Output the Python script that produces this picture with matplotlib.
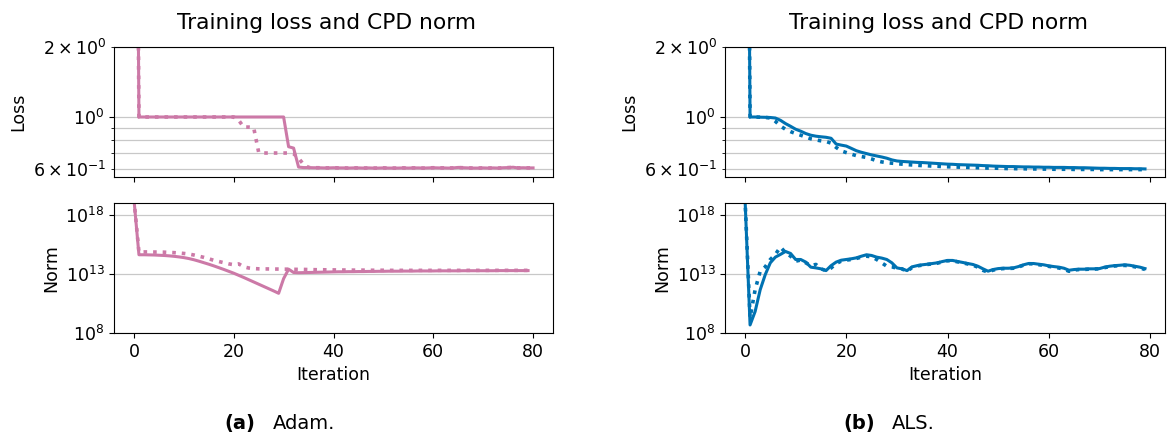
import numpy as np
import matplotlib
matplotlib.use('Agg')
import matplotlib.pyplot as plt
from matplotlib.ticker import NullLocator

# ---- data ----
# Adam: loss over iterations 0..80, CPD norm (log10) over 0..79
adam_loss_solid = [
    1000.0, 1.0, 1.0, 1.0, 1.0, 1.0, 1.0, 1.0, 1.0, 1.0,
    1.0, 1.0, 1.0, 1.0, 1.0, 1.0, 1.0, 1.0, 1.0, 1.0,
    1.0, 1.0, 1.0, 1.0, 1.0, 1.0, 1.0, 1.0, 1.0, 1.0,
    1.0, 0.745, 0.735, 0.609, 0.606, 0.606, 0.605, 0.605, 0.604, 0.604,
    0.605, 0.604, 0.604, 0.603, 0.604, 0.604, 0.603, 0.604, 0.603, 0.603,
    0.604, 0.603, 0.603, 0.603, 0.604, 0.603, 0.604, 0.604, 0.603, 0.604,
    0.605, 0.604, 0.604, 0.603, 0.604, 0.607, 0.605, 0.604, 0.603, 0.603,
    0.604, 0.603, 0.604, 0.603, 0.605, 0.606, 0.608, 0.604, 0.605, 0.604,
    0.604,
]
adam_loss_dotted = [
    1000.0, 1.0, 1.0, 1.0, 1.0, 1.0, 1.0, 1.0, 1.0, 1.0,
    1.0, 1.0, 1.0, 1.0, 1.0, 1.0, 1.0, 1.0, 1.0, 1.0,
    1.0, 0.968, 0.905, 0.905, 0.9, 0.705, 0.7, 0.7, 0.7, 0.7,
    0.7, 0.7, 0.695, 0.665, 0.625, 0.607, 0.605, 0.605, 0.604, 0.604,
    0.605, 0.604, 0.604, 0.603, 0.604, 0.604, 0.603, 0.604, 0.603, 0.603,
    0.604, 0.603, 0.603, 0.603, 0.604, 0.603, 0.604, 0.604, 0.603, 0.604,
    0.605, 0.604, 0.604, 0.603, 0.604, 0.606, 0.605, 0.604, 0.603, 0.603,
    0.604, 0.603, 0.604, 0.603, 0.605, 0.606, 0.607, 0.604, 0.605, 0.604,
    0.604,
]
adam_norm_solid_log10 = [
    19.3, 14.62, 14.62, 14.61, 14.6, 14.58, 14.56, 14.53, 14.49, 14.44,
    14.38, 14.3, 14.2, 14.08, 13.95, 13.82, 13.68, 13.53, 13.38, 13.22,
    13.06, 12.88, 12.7, 12.51, 12.32, 12.13, 11.94, 11.75, 11.56, 11.36,
    12.6, 13.4, 13.12, 13.1, 13.11, 13.12, 13.13, 13.14, 13.15, 13.16,
    13.17, 13.18, 13.18, 13.19, 13.19, 13.2, 13.2, 13.21, 13.21, 13.22,
    13.22, 13.23, 13.23, 13.23, 13.24, 13.24, 13.24, 13.25, 13.25, 13.25,
    13.25, 13.26, 13.26, 13.26, 13.26, 13.26, 13.27, 13.27, 13.27, 13.27,
    13.27, 13.27, 13.27, 13.28, 13.28, 13.28, 13.28, 13.28, 13.28, 13.28,
]
adam_norm_dotted_log10 = [
    19.3, 14.85, 14.86, 14.86, 14.85, 14.85, 14.84, 14.82, 14.8, 14.77,
    14.73, 14.68, 14.6, 14.5, 14.4, 14.28, 14.15, 14.05, 13.95, 13.85,
    13.78, 13.85, 13.6, 13.5, 13.45, 13.43, 13.42, 13.42, 13.41, 13.41,
    13.4, 13.4, 13.39, 13.38, 13.38, 13.37, 13.36, 13.35, 13.35, 13.34,
    13.34, 13.33, 13.33, 13.33, 13.32, 13.32, 13.32, 13.31, 13.31, 13.31,
    13.31, 13.3, 13.3, 13.3, 13.3, 13.3, 13.3, 13.3, 13.3, 13.3,
    13.3, 13.3, 13.3, 13.3, 13.3, 13.3, 13.3, 13.3, 13.3, 13.3,
    13.3, 13.3, 13.3, 13.3, 13.3, 13.3, 13.3, 13.3, 13.3, 13.3,
]

# ALS: loss and CPD norm (log10) over iterations 0..79
als_loss_solid = [
    1000.0, 1.0, 1.0, 0.998, 0.997, 0.995, 0.99, 0.968, 0.937, 0.912,
    0.886, 0.869, 0.849, 0.835, 0.827, 0.822, 0.818, 0.81, 0.765, 0.757,
    0.75, 0.733, 0.716, 0.705, 0.696, 0.687, 0.68, 0.673, 0.665, 0.654,
    0.647, 0.644, 0.642, 0.64, 0.638, 0.637, 0.635, 0.633, 0.631, 0.629,
    0.627, 0.626, 0.624, 0.623, 0.622, 0.621, 0.62, 0.618, 0.617, 0.615,
    0.614, 0.613, 0.612, 0.612, 0.611, 0.61, 0.61, 0.609, 0.609, 0.608,
    0.608, 0.607, 0.607, 0.607, 0.606, 0.606, 0.605, 0.605, 0.604, 0.603,
    0.602, 0.602, 0.601, 0.601, 0.6, 0.6, 0.6, 0.599, 0.599, 0.598,
]
als_loss_dotted = [
    1000.0, 1.0, 1.0, 0.998, 0.996, 0.99, 0.958, 0.915, 0.885, 0.865,
    0.849, 0.835, 0.82, 0.806, 0.797, 0.79, 0.785, 0.772, 0.74, 0.715,
    0.703, 0.692, 0.682, 0.676, 0.67, 0.66, 0.648, 0.641, 0.636, 0.633,
    0.63, 0.627, 0.624, 0.622, 0.62, 0.618, 0.617, 0.615, 0.614, 0.612,
    0.611, 0.61, 0.609, 0.608, 0.607, 0.606, 0.605, 0.604, 0.603, 0.603,
    0.602, 0.601, 0.6, 0.6, 0.599, 0.599, 0.598, 0.598, 0.597, 0.597,
    0.597, 0.596, 0.596, 0.596, 0.596, 0.595, 0.595, 0.595, 0.595, 0.595,
    0.594, 0.594, 0.594, 0.594, 0.594, 0.594, 0.594, 0.594, 0.594, 0.594,
]
als_norm_solid_log10 = [
    19.4, 8.68, 9.82, 11.66, 12.94, 13.94, 14.42, 14.65, 14.9, 14.73,
    14.22, 14.22, 14.0, 13.57, 13.51, 13.43, 13.28, 13.7, 14.0, 14.16,
    14.22, 14.28, 14.36, 14.5, 14.62, 14.56, 14.42, 14.34, 14.22, 13.94,
    13.51, 13.43, 13.28, 13.6, 13.7, 13.77, 13.82, 13.88, 13.94, 14.05,
    14.14, 14.14, 14.05, 13.97, 13.88, 13.8, 13.65, 13.43, 13.23, 13.37,
    13.45, 13.48, 13.48, 13.51, 13.62, 13.77, 13.88, 13.88, 13.82, 13.77,
    13.68, 13.62, 13.57, 13.48, 13.31, 13.37, 13.4, 13.4, 13.43, 13.43,
    13.45, 13.57, 13.65, 13.7, 13.73, 13.77, 13.73, 13.65, 13.57, 13.45,
]
als_norm_dotted_log10 = [
    19.4, 9.3, 11.66, 13.23, 13.6, 14.22, 14.65, 15.27, 14.8, 14.5,
    14.08, 14.17, 13.94, 13.7, 13.8, 13.43, 13.28, 13.5, 13.88, 14.08,
    14.17, 14.22, 14.31, 14.42, 14.5, 14.45, 14.22, 13.94, 13.65, 13.6,
    13.48, 13.43, 13.2, 13.55, 13.68, 13.74, 13.8, 13.85, 13.91, 14.02,
    14.11, 14.11, 14.02, 13.94, 13.84, 13.74, 13.57, 13.3, 13.15, 13.32,
    13.42, 13.45, 13.46, 13.48, 13.58, 13.74, 13.86, 13.85, 13.78, 13.72,
    13.64, 13.57, 13.5, 13.4, 13.22, 13.33, 13.37, 13.38, 13.4, 13.41,
    13.43, 13.53, 13.62, 13.67, 13.7, 13.72, 13.68, 13.6, 13.5, 13.38,
]

adam_color = '#CC79A7'
als_color = '#0072B2'

W, H = 1169, 436
fig = plt.figure(figsize=(W / 100, H / 100), dpi=100)

def px_axes(left, top, right, bottom):
    return fig.add_axes([left / W, 1 - bottom / H, (right - left) / W, (bottom - top) / H])

def draw_panel(x0, x1, loss_s, loss_d, norm_s, norm_d, color):
    ax_loss = px_axes(x0, 47, x1, 177)
    ax_norm = px_axes(x0, 203, x1, 333)

    ax_loss.plot(np.arange(len(loss_s)), loss_s, color=color, lw=2.2)
    ax_loss.plot(np.arange(len(loss_d)), loss_d, color=color, lw=2.6, ls=':')
    ax_loss.set_yscale('log')
    ax_loss.set_ylim(0.552, 2.0)
    ax_loss.grid(axis='y', which='both', color='#c8c8c8', lw=0.9)
    ax_loss.set_ylabel('Loss', fontsize=12.5)
    ax_loss.set_title('Training loss and CPD norm', fontsize=15.7, pad=13, x=0.485)

    ax_norm.plot(np.arange(len(norm_s)), 10.0 ** np.array(norm_s), color=color, lw=2.2)
    ax_norm.plot(np.arange(len(norm_d)), 10.0 ** np.array(norm_d), color=color, lw=2.6, ls=':')
    ax_norm.set_yscale('log')
    ax_norm.set_ylim(1e8, 1e19)
    ax_norm.set_yticks([1e8, 1e13, 1e18])
    ax_norm.yaxis.set_minor_locator(NullLocator())
    ax_norm.grid(axis='y', which='major', color='#c8c8c8', lw=0.9)
    ax_norm.set_ylabel('Norm', fontsize=12.5)
    ax_norm.set_xlabel('Iteration', fontsize=12.5)

    xmax = max(len(loss_s), len(norm_s)) - 1
    for ax in (ax_loss, ax_norm):
        ax.set_xlim(-0.05 * xmax, 1.05 * xmax)
        ax.set_xticks([0, 20, 40, 60, 80])
        ax.tick_params(which='both', labelsize=12.5)
    ax_loss.tick_params(axis='x', labelbottom=False)

draw_panel(114, 553, adam_loss_solid, adam_loss_dotted,
           adam_norm_solid_log10, adam_norm_dotted_log10, adam_color)
draw_panel(725, 1165, als_loss_solid, als_loss_dotted,
           als_norm_solid_log10, als_norm_dotted_log10, als_color)

# captions
cap_y = 1 - 429 / H
fig.text(224 / W, cap_y, '(a)', fontsize=14, fontweight='bold', va='baseline')
fig.text(273 / W, cap_y, 'Adam.', fontsize=14, va='baseline')
fig.text(843 / W, cap_y, '(b)', fontsize=14, fontweight='bold', va='baseline')
fig.text(892 / W, cap_y, 'ALS.', fontsize=14, va='baseline')

fig.savefig('out.png', dpi=100)
